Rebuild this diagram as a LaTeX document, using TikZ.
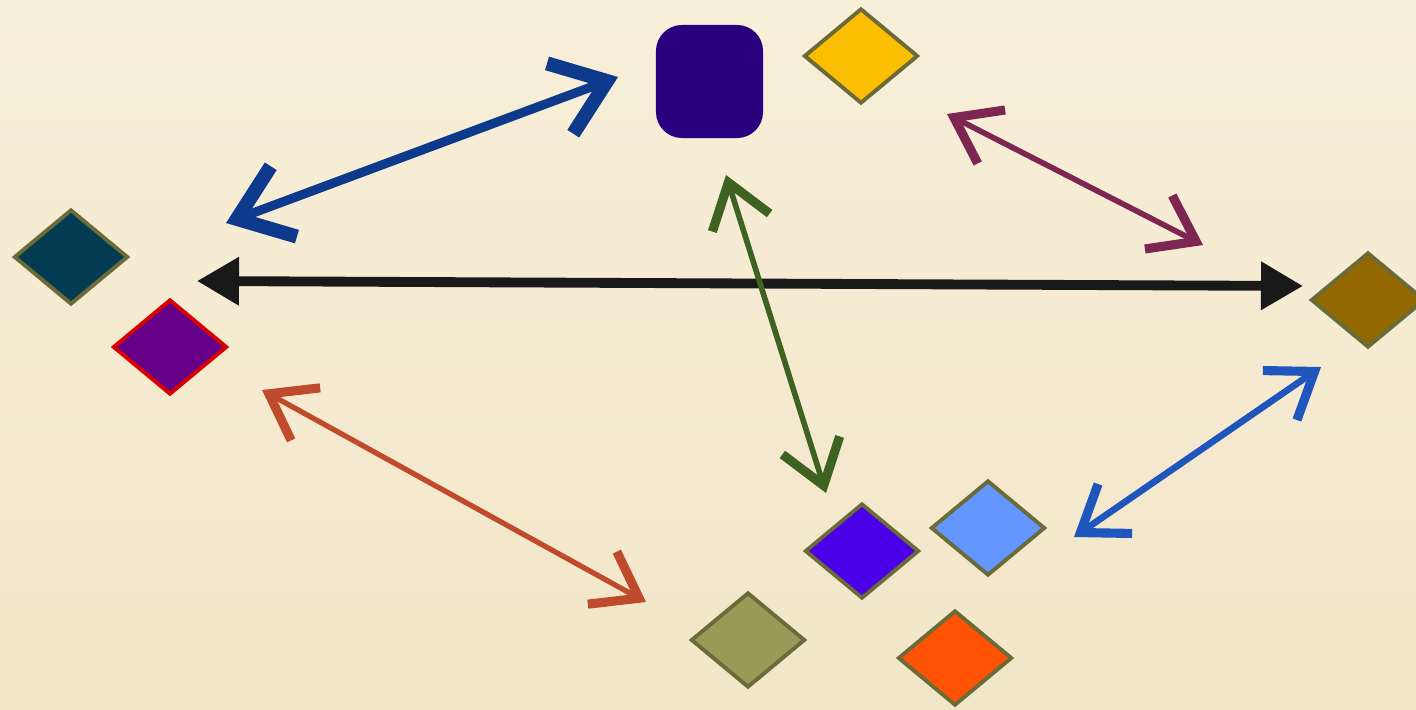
\documentclass[tikz,border=0pt]{standalone}
\usetikzlibrary{shapes.geometric, arrows.meta}

\definecolor{paper}{HTML}{F2E6C8}
\definecolor{paperhi}{HTML}{F8EFD9}
\definecolor{olivedge}{HTML}{6B6B3A}
\definecolor{tealfill}{HTML}{023B52}
\definecolor{plumfill}{HTML}{660088}
\definecolor{indigofill}{HTML}{2A007F}
\definecolor{goldfill}{HTML}{FCBE00}
\definecolor{brownfill}{HTML}{946800}
\definecolor{violetfill}{HTML}{4B00E8}
\definecolor{skyfill}{HTML}{6396FF}
\definecolor{mossfill}{HTML}{999A57}
\definecolor{orangefill}{HTML}{FF5205}
\definecolor{navyink}{HTML}{0D3A8C}
\definecolor{maroonink}{HTML}{7E2652}
\definecolor{greenink}{HTML}{3D6222}
\definecolor{rustink}{HTML}{C04A2C}
\definecolor{blueink}{HTML}{1E56BD}

\tikzset{
  gem/.style = {diamond, draw=olivedge, line width=1.1pt, inner sep=0pt,
                minimum width=1.14cm, minimum height=0.95cm},
  link/.style = {line cap=round,
                 {Straight Barb[length=0.42cm, width=0.6cm, line width=2.6pt]}-{Straight Barb[length=0.42cm, width=0.6cm, line width=2.6pt]}},
}

\begin{document}
\begin{tikzpicture}[x=0.01cm, y=-0.01cm]

% ── Paper ───────────────────────────────────────────────────────────────────
\useasboundingbox (0, 0) rectangle (1416, 709);
\shade[top color=paperhi, bottom color=paper] (0, 0) rectangle (1416, 709);

% ── Shapes ──────────────────────────────────────────────────────────────────
\node[gem, fill=tealfill]                    (teal)   at (71, 257)  {};
\node[gem, fill=plumfill, draw=red!85!black] (plum)   at (170, 347) {};
\node[fill=indigofill, rounded corners=0.26cm, inner sep=0pt,
      minimum width=1.07cm, minimum height=1.13cm] (hub) at (709.5, 81.5) {};
\node[gem, fill=goldfill]                    (gold)   at (861, 56)  {};
\node[gem, fill=brownfill]                   (brown)  at (1368, 300) {};
\node[gem, fill=violetfill]                  (violet) at (862, 551) {};
\node[gem, fill=skyfill]                     (sky)    at (988, 528) {};
\node[gem, fill=mossfill]                    (moss)   at (748, 640) {};
\node[gem, fill=orangefill]                  (orange) at (955, 658) {};

% ── Arrow ends ──────────────────────────────────────────────────────────────
\coordinate (navyA)   at (226, 223);
\coordinate (navyB)   at (618, 77);
\coordinate (blackA)  at (197, 281);
\coordinate (blackB)  at (1303, 286);
\coordinate (maroonA) at (947, 114);
\coordinate (maroonB) at (1203, 245);
\coordinate (greenA)  at (726, 175);
\coordinate (greenB)  at (826, 493);
\coordinate (rustA)   at (262, 390);
\coordinate (rustB)   at (646, 602);
\coordinate (blueA)   at (1321, 367);
\coordinate (blueB)   at (1074, 537);

% ── Connectors ──────────────────────────────────────────────────────────────
\draw[navyink, line width=2.6pt, line cap=round,
      {Straight Barb[length=0.5cm, width=0.75cm, line width=4pt]}-{Straight Barb[length=0.5cm, width=0.75cm, line width=4pt]}]
  (navyA) -- (navyB);
\draw[black!90, line width=2.8pt,
      {Triangle[length=0.42cm, width=0.46cm]}-{Triangle[length=0.42cm, width=0.46cm]}]
  (blackA) -- (blackB);
\draw[maroonink, line width=1.6pt, link] (maroonA) -- (maroonB);
\draw[greenink,  line width=1.6pt, link] (greenA)  -- (greenB);
\draw[rustink,   line width=1.5pt, link] (rustA)   -- (rustB);
\draw[blueink,   line width=1.9pt, link] (blueA)   -- (blueB);

\end{tikzpicture}
\end{document}
